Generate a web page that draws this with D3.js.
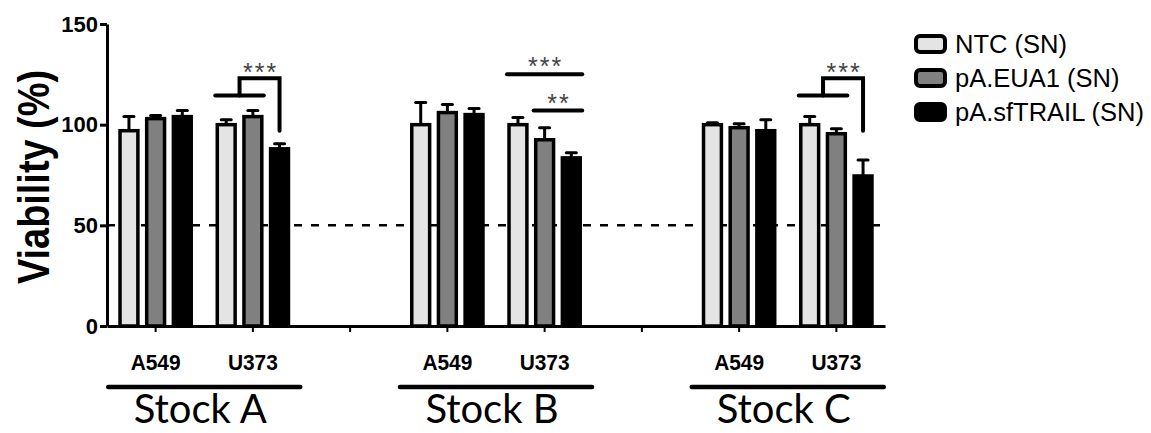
<!DOCTYPE html>
<html>
<head>
<meta charset="utf-8">
<script src="https://cdn.jsdelivr.net/npm/d3@7"></script>
<style>
body { margin: 0; background: #fff; }
svg { display: block; font-family: "Liberation Sans", Arial, sans-serif; }
</style>
</head>
<body>
<div id="chart"></div>
<script>
const stocks = ['Stock A', 'Stock B', 'Stock C'];
const cellLines = ['A549', 'U373'];
const series = ['NTC (SN)', 'pA.EUA1 (SN)', 'pA.sfTRAIL (SN)'];
const seriesColors = ['#e4e4e4', '#808080', '#000000'];
const yTicks = [0, 50, 100, 150];

// order: A/A549, A/U373, B/A549, B/U373, C/A549, C/U373
const ntcMean   = [97, 100, 100, 100, 100, 100];
const ntcErr    = [7, 2.5, 11, 3.5, 1, 4];
const eua1Mean  = [103, 104, 106, 92.5, 98.5, 95.5];
const eua1Err   = [1.5, 3, 4, 6, 2, 2.5];
const trailMean = [104, 88, 105, 83.5, 97, 74.5];
const trailErr  = [3, 2.5, 3, 2.5, 5.5, 8];

const threshold = 50;

// significance: stepped brackets (NTC+EUA1 vs sfTRAIL) and plain bars
const sigBrackets = [
    {stock: 'Stock A', cell: 'U373', base: 114.5, top: 123, end: 97, label: '***'},
    {stock: 'Stock C', cell: 'U373', base: 114.5, top: 123, end: 97, label: '***'}
];
const sigBars = [
    {stock: 'Stock B', cell: 'U373', from: 0, to: 2, level: 125, label: '***'},
    {stock: 'Stock B', cell: 'U373', from: 1, to: 2, level: 107, label: '**'}
];

const means = [ntcMean, eua1Mean, trailMean];
const errs = [ntcErr, eua1Err, trailErr];

// slots along x: two cell lines per stock, an empty slot between stocks
const slots = [];
stocks.forEach((s, i) => {
    cellLines.forEach(c => slots.push(s + '|' + c));
    if (i < stocks.length - 1) slots.push('gap' + i);
});

const W = 1151, H = 433;
const svg = d3.select('#chart').append('svg').attr('width', W).attr('height', H);

const x0 = d3.scaleBand().domain(slots).range([107, 885]);
const bw = x0.bandwidth();
const x1 = d3.scaleBand().domain(series)
    .range([bw / 2 - 40, bw / 2 + 40])
    .paddingInner(0.33).paddingOuter(0.165);
const y = d3.scaleLinear().domain([0, 150]).range([326, 24]);

// dashed 50% line
svg.append('line')
    .attr('x1', x0.range()[0]).attr('x2', x0.range()[1])
    .attr('y1', y(threshold)).attr('y2', y(threshold))
    .attr('stroke', '#000').attr('stroke-width', 2.5)
    .attr('stroke-dasharray', '8,9');

// bars
const rows = [];
stocks.forEach((s, si) => cellLines.forEach((c, ci) => {
    series.forEach((ser, k) => {
        const idx = si * cellLines.length + ci;
        rows.push({slot: s + '|' + c, ser: ser, k: k, v: means[k][idx], e: errs[k][idx]});
    });
}));

const bars = svg.append('g').selectAll('g').data(rows).join('g')
    .attr('transform', d => 'translate(' + (x0(d.slot) + x1(d.ser)) + ',0)');

bars.append('line')
    .attr('x1', x1.bandwidth() / 2).attr('x2', x1.bandwidth() / 2)
    .attr('y1', d => y(d.v)).attr('y2', d => y(d.v + d.e))
    .attr('stroke', '#000').attr('stroke-width', 3);
bars.append('line')
    .attr('x1', x1.bandwidth() / 2 - 5).attr('x2', x1.bandwidth() / 2 + 5)
    .attr('y1', d => y(d.v + d.e)).attr('y2', d => y(d.v + d.e))
    .attr('stroke', '#000').attr('stroke-width', 3).attr('stroke-linecap', 'round');
bars.append('rect')
    .attr('x', 0).attr('width', x1.bandwidth())
    .attr('y', d => y(d.v)).attr('height', d => y(0) - y(d.v))
    .attr('fill', d => seriesColors[d.k])
    .attr('stroke', '#000').attr('stroke-width', 3.5);

// axes
const yAxis = svg.append('g')
    .attr('transform', 'translate(107,0)')
    .call(d3.axisLeft(y).tickValues(yTicks).tickSize(7).tickSizeOuter(0).tickPadding(2));
yAxis.select('.domain').attr('stroke-width', 3);
yAxis.selectAll('.tick line').attr('stroke-width', 3);
yAxis.selectAll('.tick text')
    .attr('font-size', 22).attr('font-weight', 'bold')
    .attr('font-family', '"Liberation Sans", Arial, sans-serif')
    .attr('fill', '#000');

const xAxis = svg.append('g')
    .attr('transform', 'translate(0,' + y(0) + ')')
    .call(d3.axisBottom(x0).tickSize(6).tickSizeOuter(0).tickFormat(''));
xAxis.select('.domain').attr('stroke-width', 3);
xAxis.selectAll('.tick line').attr('stroke-width', 2);

// y label
svg.append('text')
    .attr('transform', 'translate(49,177) rotate(-90)')
    .attr('text-anchor', 'middle')
    .attr('font-size', 44).attr('font-weight', 'bold')
    .attr('textLength', 214).attr('lengthAdjust', 'spacingAndGlyphs')
    .text('Viability (%)');

// cell line labels
svg.append('g').selectAll('text')
    .data(slots.filter(s => !s.startsWith('gap')))
    .join('text')
    .attr('x', d => x0(d) + bw / 2).attr('y', 370)
    .attr('text-anchor', 'middle')
    .attr('font-size', 22).attr('font-weight', 'bold')
    .attr('textLength', 50).attr('lengthAdjust', 'spacingAndGlyphs')
    .text(d => d.split('|')[1]);

// stock underlines + names
const stockCenter = s => (x0(s + '|' + cellLines[0]) + x0(s + '|' + cellLines[1]) + bw) / 2;
svg.append('g').selectAll('line').data(stocks).join('line')
    .attr('x1', d => stockCenter(d) - 96).attr('x2', d => stockCenter(d) + 96)
    .attr('y1', 387).attr('y2', 387)
    .attr('stroke', '#000').attr('stroke-width', 4.5).attr('stroke-linecap', 'round');
svg.append('g').selectAll('text').data(stocks).join('text')
    .attr('x', d => stockCenter(d) - 4).attr('y', 423)
    .attr('text-anchor', 'middle')
    .attr('font-family', 'Lato, "Open Sans", sans-serif')
    .attr('font-size', 40)
    .text(d => d);

// significance
const barCenter = (stock, cell, k) => x0(stock + '|' + cell) + x1(series[k]) + x1.bandwidth() / 2;
const half = x1.bandwidth() / 2 + 2;
const sig = svg.append('g').attr('stroke', '#000').attr('stroke-width', 4).attr('fill', 'none');
const starStyle = t => t.attr('text-anchor', 'middle').attr('font-size', 25)
    .attr('letter-spacing', 2).attr('fill', '#444').attr('stroke', 'none');

sigBrackets.forEach(b => {
    const xl = barCenter(b.stock, b.cell, 0) - half;
    const xr = barCenter(b.stock, b.cell, 1) + half;
    const mid = (xl + xr) / 2;
    const xt = barCenter(b.stock, b.cell, 2);
    sig.append('line').attr('x1', xl).attr('x2', xr)
        .attr('y1', y(b.base)).attr('y2', y(b.base)).attr('stroke-linecap', 'round');
    sig.append('path')
        .attr('d', 'M' + mid + ',' + y(b.base) + 'V' + y(b.top) + 'H' + xt + 'V' + y(b.end))
        .attr('stroke-linecap', 'round');
    sig.append('text').call(starStyle)
        .attr('x', (mid + xt) / 2 + 1).attr('y', y(b.top) + 3)
        .text(b.label);
});
sigBars.forEach(b => {
    const xl = barCenter(b.stock, b.cell, b.from) - half;
    const xr = barCenter(b.stock, b.cell, b.to) + half;
    sig.append('line').attr('x1', xl).attr('x2', xr)
        .attr('y1', y(b.level)).attr('y2', y(b.level)).attr('stroke-linecap', 'round');
    sig.append('text').call(starStyle)
        .attr('x', (xl + xr) / 2 + 1).attr('y', y(b.level) + 1)
        .text(b.label);
});

// legend
const legend = svg.append('g').attr('transform', 'translate(916,36)');
const item = legend.selectAll('g').data(series).join('g')
    .attr('transform', (d, i) => 'translate(0,' + i * 34 + ')');
item.append('rect')
    .attr('width', 29).attr('height', 16).attr('rx', 4)
    .attr('fill', (d, i) => seriesColors[i])
    .attr('stroke', '#000').attr('stroke-width', 4);
item.append('text')
    .attr('x', 39).attr('y', 8).attr('dy', '0.35em')
    .attr('font-size', 25.5)
    .text(d => d);
</script>
</body>
</html>
